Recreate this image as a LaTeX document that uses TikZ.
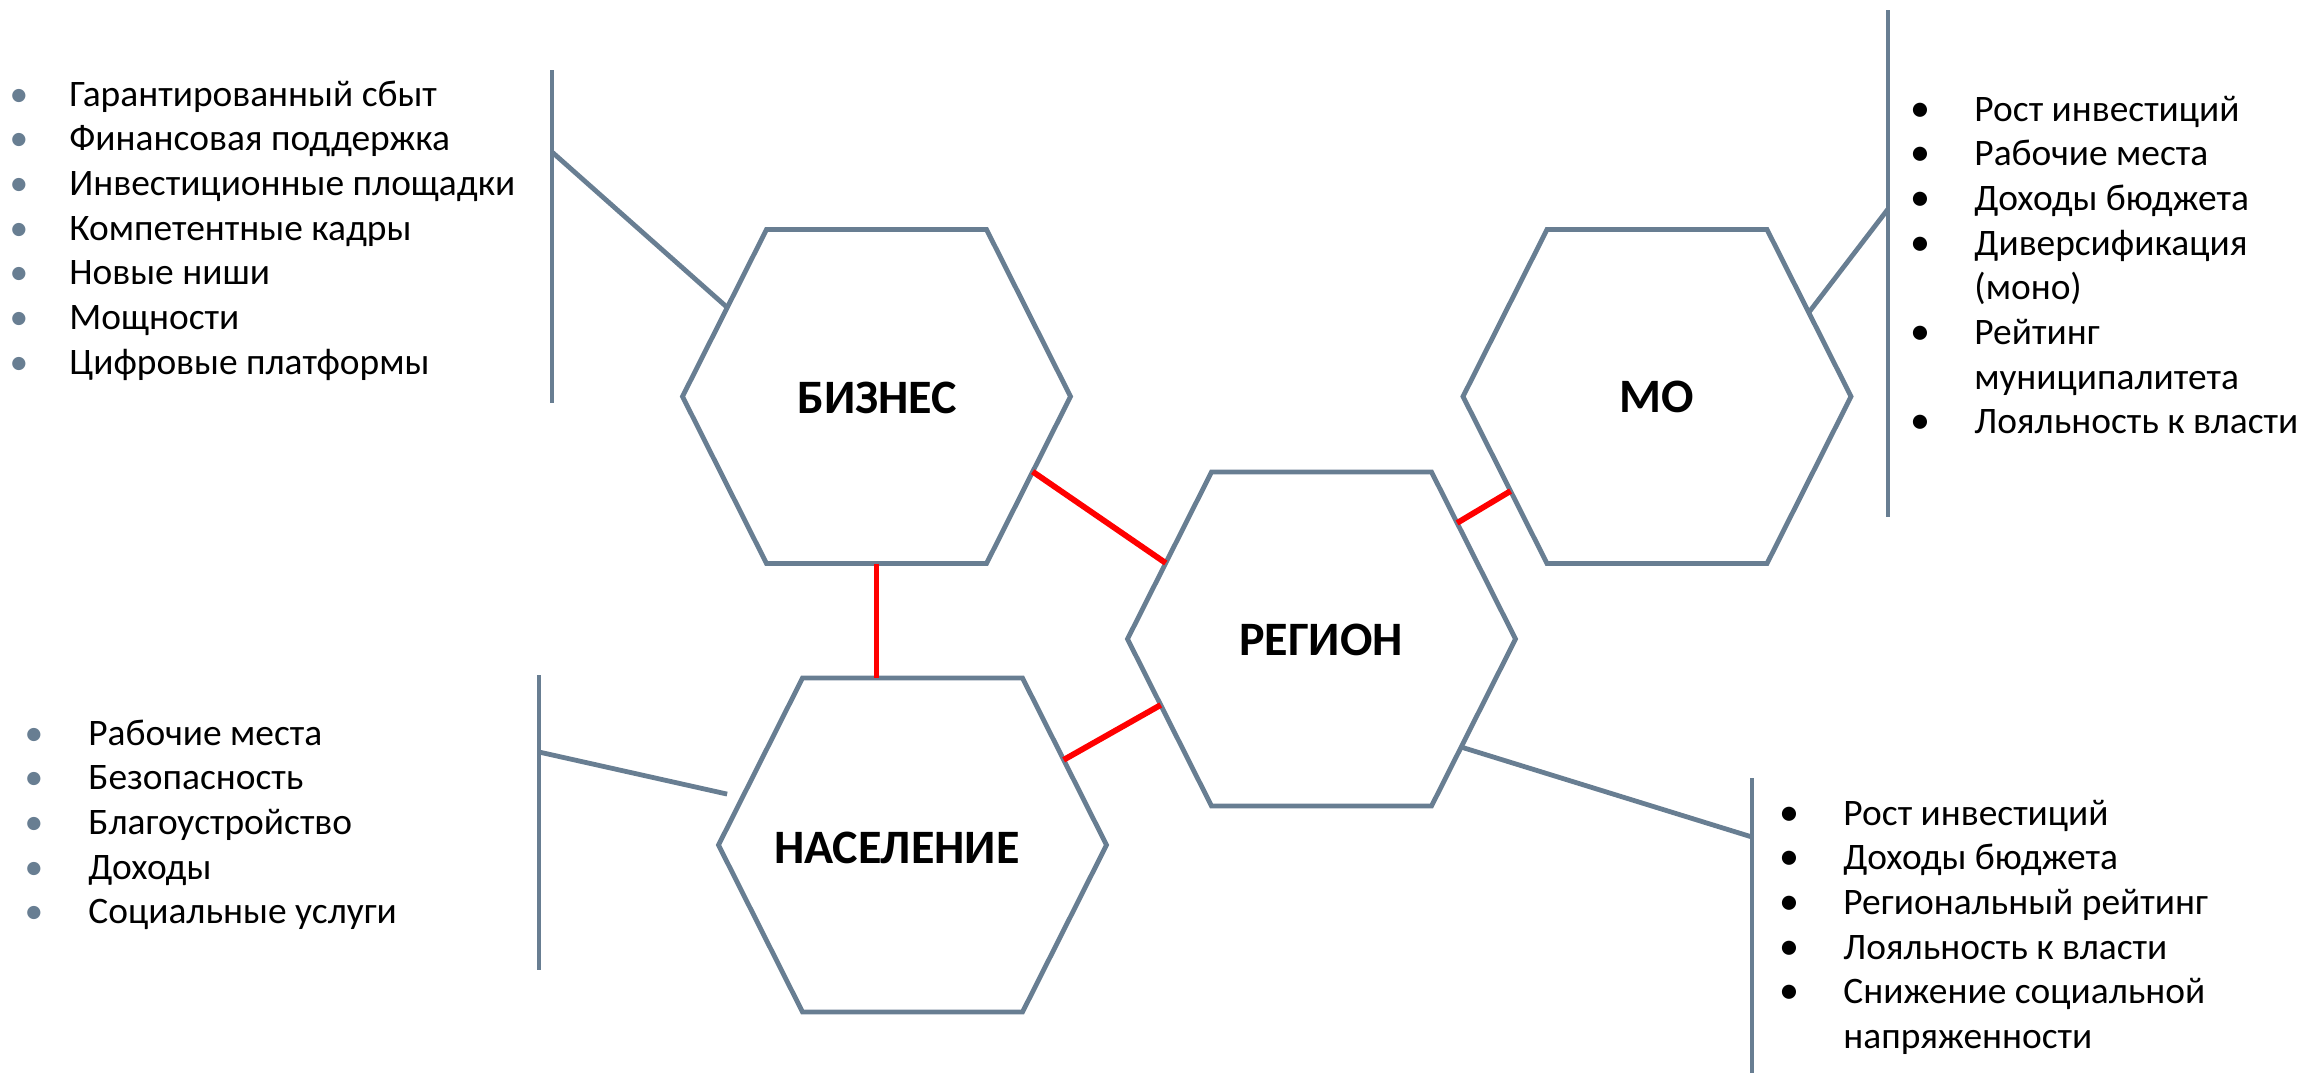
\documentclass[tikz,border=0pt]{standalone}
\usepackage{fontspec}
\setmainfont{Carlito}
\usetikzlibrary{calc}
\definecolor{hexgrey}{RGB}{104,126,146}
\definecolor{linkred}{RGB}{255,0,0}
\tikzset{
  hexline/.style={draw=hexgrey, line width=2.4pt, line join=miter},
  greyline/.style={draw=hexgrey, line width=2.4pt},
  redline/.style={draw=linkred, line width=2.9pt},
  hexlabel/.style={inner sep=0pt, font=\fontsize{24}{28}\selectfont\bfseries},
  listtext/.style={anchor=base west, inner sep=0pt, font=\fontsize{18.7}{22.35}\selectfont},
  bulletgrey/.style={anchor=base, inner sep=0pt, text=hexgrey, font=\fontsize{18.7}{22.35}\selectfont},
  bulletblack/.style={anchor=base, inner sep=0pt, text=black, font=\fontsize{20}{22.35}\selectfont},
}
\newcommand\hexdraw[1]{%
  \draw[hexline] ($(#1)+(-194,0)$) coordinate (#1-l)
    -- ($(#1)+(-110,-167)$) coordinate (#1-tl)
    -- ($(#1)+(110,-167)$) coordinate (#1-tr)
    -- ($(#1)+(194,0)$) coordinate (#1-r)
    -- ($(#1)+(110,167)$) coordinate (#1-br)
    -- ($(#1)+(-110,167)$) coordinate (#1-bl)
    -- cycle;
}
\begin{document}
\begin{tikzpicture}[x=0.5pt,y=-0.5pt]
\useasboundingbox (0,0) rectangle (2305,1072);

% hexagon centres
\coordinate (biz) at (876.5,396.5);
\coordinate (reg) at (1321.5,639);
\coordinate (mo)  at (1657,396.5);
\coordinate (nas) at (912.5,845);
\hexdraw{biz}
\hexdraw{reg}
\hexdraw{mo}
\hexdraw{nas}

% labels
\node[hexlabel] (bizt) at (877,398) {БИЗНЕС};
\node[hexlabel] (regt) at (1321,640) {РЕГИОН};
\node[hexlabel] (mot)  at (1657,397) {МО};
\node[hexlabel] (nast) at (897,848) {НАСЕЛЕНИЕ};

% red links
\coordinate (biz-b) at ($(biz-bl)!0.5!(biz-br)$);
\draw[redline] (biz-b) -- (biz-b |- nas-tl);
\draw[redline] ($(biz-r)!0.45!(biz-br)$) -- ($(reg-tl)!0.545!(reg-l)$);
\draw[redline] ($(nas-tr)!0.49!(nas-r)$) -- ($(reg-l)!0.395!(reg-bl)$);
\draw[redline] ($(reg-tr)!0.305!(reg-r)$) -- ($(mo-l)!0.566!(mo-bl)$);

% bars
\coordinate (barLT-t) at (552,70);   \coordinate (barLT-b) at (552,403);
\coordinate (barRT-t) at (1888,10);  \coordinate (barRT-b) at (1888,517);
\coordinate (barLB-t) at (539,675);  \coordinate (barLB-b) at (539,970);
\coordinate (barRB-t) at (1752,778); \coordinate (barRB-b) at (1752,1075);
\draw[greyline] (barLT-t) -- (barLT-b);
\draw[greyline] (barRT-t) -- (barRT-b);
\draw[greyline] (barLB-t) -- (barLB-b);
\draw[greyline] (barRB-t) -- (barRB-b);

% grey connectors
\coordinate (barLT-c) at (552,152);
\coordinate (barRT-c) at (1888,209);
\coordinate (barLB-c) at (539,752);
\coordinate (barRB-c) at (1752,837);
\coordinate (nas-free) at ($(nas-tl)!0.695!(nas-l)+(-17,0)$);
\draw[greyline] (barLT-c) -- ($(biz-l)!0.533!(biz-tl)$);
\draw[greyline] ($(mo-tr)!0.497!(mo-r)$) -- (barRT-c);
\draw[greyline] (barLB-c) -- (nas-free);
\draw[greyline] ($(reg-r)!0.647!(reg-br)$) -- (barRB-c);

% left top list
\foreach \t [count=\i from 0] in {Гарантированный сбыт, Финансовая поддержка, Инвестиционные площадки, Компетентные кадры, Новые ниши, Мощности, Цифровые платформы} {
  \node[listtext] (lt\i) at (69,{106+44.7*\i}) {\t};
  \node[bulletgrey] (ltb\i) at (19,{106+44.7*\i}) {•};
}
% left bottom list
\foreach \t [count=\i from 0] in {Рабочие места, Безопасность, Благоустройство, Доходы, Социальные услуги} {
  \node[listtext] (lb\i) at (88,{745+44.7*\i}) {\t};
  \node[bulletgrey] (lbb\i) at (34,{745+44.7*\i}) {•};
}
% right top list
\foreach \t [count=\i from 0] in {Рост инвестиций, Рабочие места, Доходы бюджета, Диверсификация, (моно), Рейтинг, муниципалитета, Лояльность к власти} {
  \node[listtext] (rt\i) at (1974,{121+44.7*\i}) {\t};
}
\foreach \i in {0,1,2,3,5,7} {
  \node[bulletblack] (rtb\i) at (1920,{121+44.7*\i}) {•};
}
% right bottom list
\foreach \t [count=\i from 0] in {Рост инвестиций, Доходы бюджета, Региональный рейтинг, Лояльность к власти, Снижение социальной, напряженности} {
  \node[listtext] (rb\i) at (1843,{825+44.7*\i}) {\t};
}
\foreach \i in {0,1,2,3,4} {
  \node[bulletblack] (rbb\i) at (1789,{825+44.7*\i}) {•};
}
\end{tikzpicture}
\end{document}
